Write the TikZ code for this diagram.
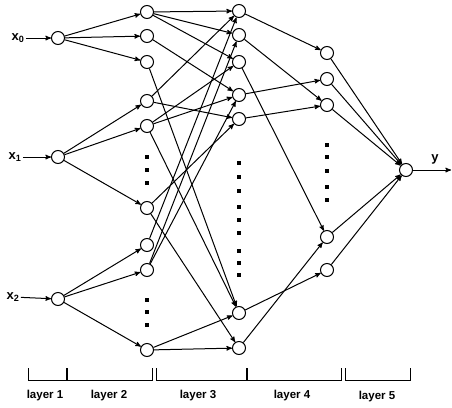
\documentclass[tikz,border=0pt]{standalone}
\usepackage{fontspec}
\setsansfont{Liberation Sans}
\usetikzlibrary{positioning}
\usetikzlibrary{arrows}

\begin{document}
\begin{tikzpicture}[x=1pt,y=-1pt,->,>=stealth',shorten >=0pt,
                line width=1pt,
                unit/.style={circle,draw,minimum size=13pt,inner sep=0pt,fill=white},
                lbl/.style={font=\sffamily\bfseries\fontsize{11.5}{13}\selectfont,inner sep=1pt},
                inp/.style={font=\sffamily\bfseries\fontsize{13}{15}\selectfont,inner sep=1pt},
                bracket/.style={-,line width=0.8pt}]
  \useasboundingbox (0,0) rectangle (452,407);

  % layer 1
  \node[unit] (i0) at (58,38) {};
  \node[unit] (i1) at (58,157) {};
  \node[unit] (i2) at (58,299) {};
  \node[inp] (x0) at (18,38) {x\textsubscript{0}};
  \node[inp] (x1) at (15,157) {x\textsubscript{1}};
  \node[inp] (x2) at (13,297) {x\textsubscript{2}};

  % layer 2
  \node[unit] (h1) at (147,12) {};
  \node[unit] (h2) at (147,36) {};
  \node[unit] (h3) at (147,62) {};
  \node[unit] (h4) at (147,101) {};
  \node[unit] (h5) at (147,126) {};
  \node[unit] (h6) at (147,208) {};
  \node[unit] (h7) at (147,245) {};
  \node[unit] (h8) at (147,270) {};
  \node[unit] (h9) at (147,350) {};

  % layer 3
  \node[unit] (g1) at (239,11) {};
  \node[unit] (g2) at (239,35) {};
  \node[unit] (g3) at (239,62) {};
  \node[unit] (g4) at (239,95) {};
  \node[unit] (g5) at (239,119) {};
  \node[unit] (g6) at (239,313) {};
  \node[unit] (g7) at (239,348) {};

  % layer 4
  \node[unit] (f1) at (327,53) {};
  \node[unit] (f2) at (327,79) {};
  \node[unit] (f3) at (327,105) {};
  \node[unit] (f4) at (327,237) {};
  \node[unit] (f5) at (327,270) {};

  % layer 5
  \node[unit] (o) at (406,170) {};
  \node[inp] (y) at (435,159) {y};
  \coordinate (out) at (451,170);

  % dots
  \foreach \x/\y in {147/157,147/170,147/183,147/300,147/312,147/325,
                     239/163,239/177,239/191,239/207,239/220,239/233,239/251,239/263,239/275,
                     327/145,327/157,327/171,327/187,327/200}
    \fill (\x-1.7,\y-1.7) rectangle (\x+1.7,\y+1.7);

  \path
    (x0) edge (i0)
    (x1) edge (i1)
    (x2) edge (i2)
    (i0) edge (h1) edge (h2) edge (h3)
    (i1) edge (h4) edge (h5) edge (h6)
    (i2) edge (h7) edge (h8) edge (h9)
    (h1) edge (g1) edge (g2) edge (g3)
    (h2) edge (g4)
    (h3) edge (g6)
    (h4) edge (g1) edge (g5)
    (h5) edge (g3) edge (g4) edge (g6)
    (h6) edge (g5) edge (g7)
    (h7) edge (g1)
    (h8) edge (g2) edge (g4)
    (h9) edge (g6) edge (g7)
    (g1) edge (f1)
    (g2) edge (f3)
    (g3) edge (f4)
    (g4) edge (f2)
    (g5) edge (f3)
    (g6) edge (f5)
    (g7) edge (f4)
    (f1) edge (o)
    (f2) edge (o)
    (f3) edge (o)
    (f4) edge (o)
    (f5) edge (o)
    (o) edge (out);

  % layer scale
  \draw[bracket] (28,368) |- (66.5,380) -- (66.5,368);
  \draw[bracket] (67.5,368) |- (152,380) -- (152,368);
  \draw[bracket] (156,368) |- (246.5,380) -- (246.5,368);
  \draw[bracket] (247.5,368) |- (341,380) -- (341,368);
  \draw[bracket] (345,368) |- (410,380) -- (410,368);
  \node[lbl] (l1) at (45,396) {layer 1};
  \node[lbl] (l2) at (109,396) {layer 2};
  \node[lbl] (l3) at (198,396) {layer 3};
  \node[lbl] (l4) at (292,396) {layer 4};
  \node[lbl] (l5) at (377,397) {layer 5};

\end{tikzpicture}
\end{document}
